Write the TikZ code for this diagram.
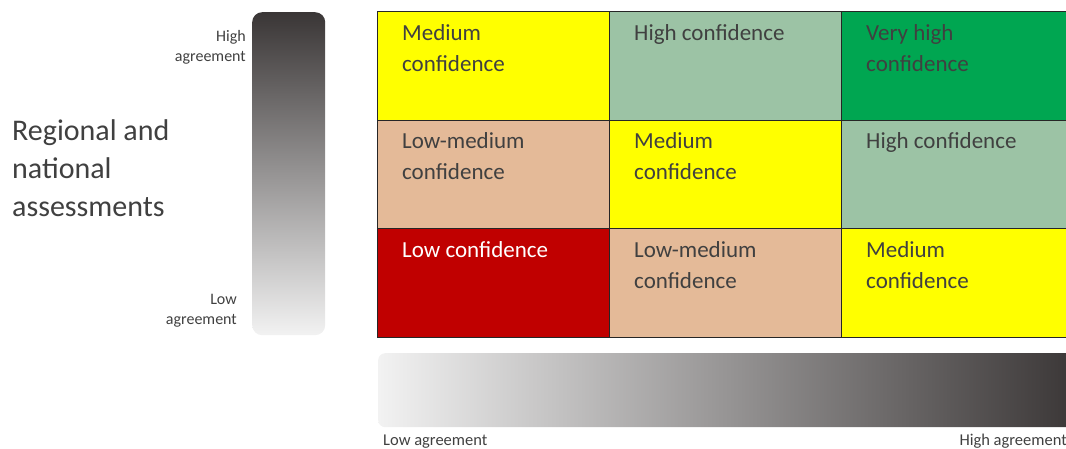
\documentclass[tikz,border=0pt]{standalone}
\usepackage{fontspec}
\setmainfont{Carlito}
\definecolor{cellyellow}{HTML}{FFFF00}
\definecolor{cellsage}{HTML}{9CC3A5}
\definecolor{cellgreen}{HTML}{00A651}
\definecolor{celltan}{HTML}{E4BA98}
\definecolor{cellred}{HTML}{C00000}
\definecolor{inkgray}{HTML}{404040}
\definecolor{bardark}{HTML}{3A3636}
\definecolor{barlight}{HTML}{F2F2F2}

\begin{document}
\begin{tikzpicture}[x=1pt,y=-1pt,
		cell/.style={draw=black!85,line width=1.3pt,anchor=north west,inner sep=0pt,minimum width=232pt,minimum height=108.5pt},
		celltext/.style={anchor=north west,inner sep=0pt,align=left,text=inkgray,font=\fontsize{23}{31}\selectfont},
		agree/.style={inner sep=0pt,text=inkgray,font=\fontsize{16}{20}\selectfont}]
		\useasboundingbox (0,0) rectangle (1066,448);
		
		% agreement bars
		\draw (252,12) node[anchor=north west,inner sep=0pt,minimum width=73pt,minimum height=323pt,rounded corners=10pt,top color=bardark,bottom color=barlight] (vbar) {} ;
		\draw (378,353) node[anchor=north west,inner sep=0pt,minimum width=700pt,minimum height=74pt,rounded corners=7pt,left color=barlight,right color=bardark] (hbar) {} ;
		
		\draw (246,30) node[agree,anchor=north east,align=right] (vhigh) {High\\agreement} ;
		\draw (237,294) node[agree,anchor=north east,align=right] (vlow) {Low\\agreement} ;
		\draw (383,445) node[agree,anchor=base west,font=\fontsize{16.5}{20}\selectfont] (hlow) {Low agreement} ;
		\draw (1067,445) node[agree,anchor=base east,font=\fontsize{16.5}{20}\selectfont] (hhigh) {High agreement} ;
		
		\draw (12,119) node[anchor=north west,inner sep=0pt,align=left,text=inkgray,font=\fontsize{30}{38}\selectfont] (region) {Regional and\\national\\assessments} ;
		
		% confidence grid
		\draw (377,11) node[cell,fill=cellyellow] (c11) {} ;
		\draw (609,11) node[cell,fill=cellsage] (c12) {} ;
		\draw (841,11) node[cell,fill=cellgreen] (c13) {} ;
		\draw (377,119.5) node[cell,fill=celltan] (c21) {} ;
		\draw (609,119.5) node[cell,fill=cellyellow] (c22) {} ;
		\draw (841,119.5) node[cell,fill=cellsage] (c23) {} ;
		\draw (377,228) node[cell,fill=cellred] (c31) {} ;
		\draw (609,228) node[cell,fill=celltan] (c32) {} ;
		\draw (841,228) node[cell,fill=cellyellow] (c33) {} ;
		
		\node[celltext] (t11) at ([xshift=25pt,yshift=-13pt]c11.north west) {Medium\\confidence};
		\node[celltext] (t12) at ([xshift=25pt,yshift=-13pt]c12.north west) {High confidence};
		\node[celltext] (t13) at ([xshift=25pt,yshift=-13pt]c13.north west) {Very high\\confidence};
		\node[celltext] (t21) at ([xshift=25pt,yshift=-13pt]c21.north west) {Low-medium\\confidence};
		\node[celltext] (t22) at ([xshift=25pt,yshift=-13pt]c22.north west) {Medium\\confidence};
		\node[celltext] (t23) at ([xshift=25pt,yshift=-13pt]c23.north west) {High confidence};
		\node[celltext,text=white] (t31) at ([xshift=25pt,yshift=-13pt]c31.north west) {Low confidence};
		\node[celltext] (t32) at ([xshift=25pt,yshift=-13pt]c32.north west) {Low-medium\\confidence};
		\node[celltext] (t33) at ([xshift=25pt,yshift=-13pt]c33.north west) {Medium\\confidence};
		\end{tikzpicture}
\end{document}
